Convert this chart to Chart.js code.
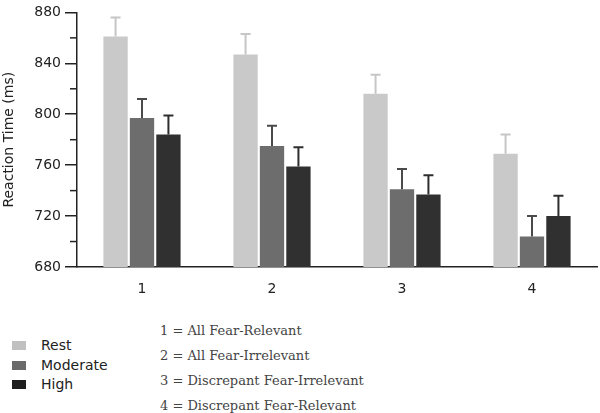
<!DOCTYPE html>
<html>
<head>
<meta charset="utf-8">
<script src="https://cdn.jsdelivr.net/npm/chart.js@4/dist/chart.umd.min.js"></script>
<style>
  html, body { margin: 0; padding: 0; background: #fff; }
  #wrap { position: relative; width: 600px; height: 413px; overflow: hidden; }
  #c { position: absolute; left: 0; top: 0; }
  .leg { position: absolute; left: 12px; font: 14px "DejaVu Sans", sans-serif; color: #222; line-height: 16px; }
  .leg span.sw { display: inline-block; width: 14px; height: 9px; vertical-align: middle; margin-right: 15px; position: relative; top: -1px; }
  .def { position: absolute; left: 160px; font: 13px "DejaVu Serif", serif; color: #444; line-height: 16px; white-space: nowrap; }
</style>
</head>
<body>
<div id="wrap">
  <canvas id="c" width="600" height="300"></canvas>
</div>
<script>
const categories = ['1', '2', '3', '4'];
const categoryNames = ['All Fear-Relevant', 'All Fear-Irrelevant', 'Discrepant Fear-Irrelevant', 'Discrepant Fear-Relevant'];
const seriesNames = ['Rest', 'Moderate', 'High'];
const restValues = [861, 847, 816, 769];
const moderateValues = [797, 775, 741, 704];
const highValues = [784, 759, 737, 720];
const restErrors = [15, 16, 15, 15];
const moderateErrors = [15, 16, 16, 16];
const highErrors = [15, 15, 15, 16];
const yTicksMajor = [680, 720, 760, 800, 840, 880];
const yTicksMinor = [700, 740, 780, 820, 860];

const barColors = ['#c9c9c9', '#6d6d6d', '#303030'];
const errColors = ['#c6c6c6', '#4a4a4a', '#2e2e2e'];
const legendColors = ['#c0c0c0', '#6a6a6a', '#1e1e1e'];

const errorSets = [restErrors, moderateErrors, highErrors];

const errorBarPlugin = {
  id: 'errorBars',
  afterDatasetsDraw(chart) {
    const ctx = chart.ctx;
    const ys = chart.scales.y;
    chart.data.datasets.forEach((ds, di) => {
      const meta = chart.getDatasetMeta(di);
      meta.data.forEach((bar, i) => {
        const top = ys.getPixelForValue(ds.data[i] + errorSets[di][i]);
        ctx.save();
        ctx.strokeStyle = errColors[di];
        ctx.lineWidth = 2;
        ctx.beginPath();
        ctx.moveTo(bar.x, bar.y);
        ctx.lineTo(bar.x, top);
        ctx.moveTo(bar.x - 5, top);
        ctx.lineTo(bar.x + 5, top);
        ctx.stroke();
        ctx.restore();
      });
    });
  }
};

const minorTickPlugin = {
  id: 'minorTicks',
  afterDraw(chart) {
    const ctx = chart.ctx;
    const ys = chart.scales.y;
    const x = chart.chartArea.left;
    ctx.save();
    ctx.strokeStyle = '#222';
    ctx.lineWidth = 1.5;
    yTicksMinor.forEach(v => {
      const y = ys.getPixelForValue(v);
      ctx.beginPath();
      ctx.moveTo(x - 7, y);
      ctx.lineTo(x, y);
      ctx.stroke();
    });
    ctx.restore();
  }
};

new Chart(document.getElementById('c'), {
  type: 'bar',
  data: {
    labels: categories,
    datasets: [
      { label: seriesNames[0], data: restValues, backgroundColor: barColors[0] },
      { label: seriesNames[1], data: moderateValues, backgroundColor: barColors[1] },
      { label: seriesNames[2], data: highValues, backgroundColor: barColors[2] }
    ]
  },
  options: {
    responsive: false,
    animation: false,
    devicePixelRatio: 1,
    layout: { padding: { top: 8, right: 3, left: 0, bottom: 0 } },
    datasets: { bar: { categoryPercentage: 0.61, barPercentage: 0.92 } },
    plugins: { legend: { display: false }, tooltip: { enabled: false } },
    scales: {
      x: {
        grid: { display: false },
        border: { display: true, color: '#222', width: 1.5 },
        ticks: { color: '#222', font: { family: 'DejaVu Sans', size: 14 }, padding: 6 },
        afterFit(scale) { scale.height = 33; }
      },
      y: {
        min: 680,
        max: 880,
        afterBuildTicks(scale) { scale.ticks = yTicksMajor.map(v => ({ value: v })); },
        grid: { drawOnChartArea: false, drawTicks: true, tickLength: 12, color: '#222', lineWidth: 1.5 },
        border: { display: true, color: '#222', width: 1.5 },
        ticks: { color: '#222', font: { family: 'DejaVu Sans', size: 14 }, padding: 4 },
        title: { display: true, text: 'Reaction Time (ms)', color: '#222', font: { family: 'DejaVu Sans', size: 14 }, padding: { top: 1, bottom: 0 } },
        afterFit(scale) { scale.width = 77; }
      }
    }
  },
  plugins: [errorBarPlugin, minorTickPlugin]
});

// Legend (built from series arrays)
const wrap = document.getElementById('wrap');
const legTops = [337, 357, 376];
seriesNames.forEach((name, i) => {
  const d = document.createElement('div');
  d.className = 'leg';
  d.style.top = legTops[i] + 'px';
  const sw = document.createElement('span');
  sw.className = 'sw';
  sw.style.background = legendColors[i];
  d.appendChild(sw);
  d.appendChild(document.createTextNode(name));
  wrap.appendChild(d);
});
// Category definitions
const defTops = [323, 348, 373, 398];
categories.forEach((c, i) => {
  const d = document.createElement('div');
  d.className = 'def';
  d.style.top = defTops[i] + 'px';
  d.textContent = c + ' = ' + categoryNames[i];
  wrap.appendChild(d);
});
</script>
</body>
</html>
